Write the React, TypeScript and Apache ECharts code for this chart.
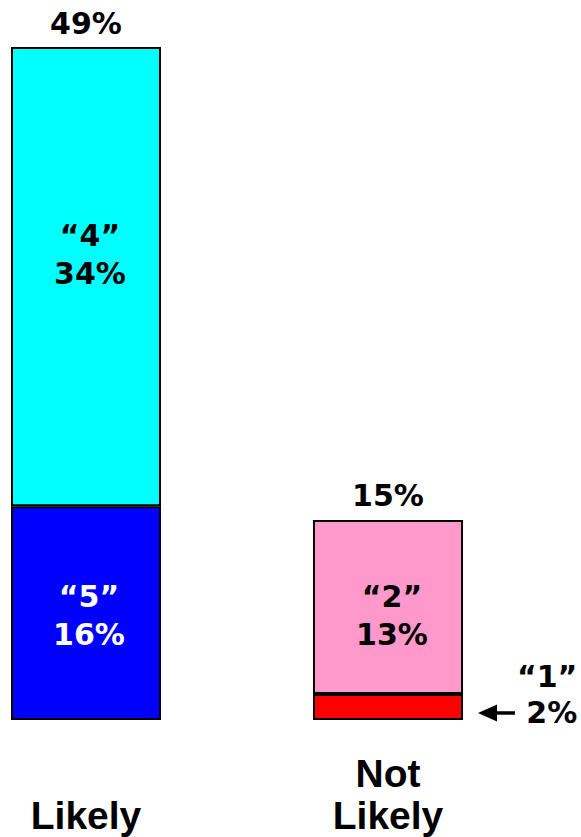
import React, { useEffect, useRef } from "react";
import * as echarts from "echarts";

// Survey responses, percent of respondents
const categories = ["Likely", "Not Likely"];
const axisNames = ["\nLikely", "Not\nLikely"];
const rating5 = [15.6, null];
const rating4 = [33.5, null];
const rating1 = [null, 1.9];
const rating2 = [null, 12.7];
const totals = [49.1, 14.6];

const BAR_WIDTH = 150;
const VALUE_FONT = "'DejaVu Sans', Verdana, sans-serif";
const AXIS_FONT = "'Liberation Sans', Arial, sans-serif";
const VALUE_SIZE = 30;

const pct = (v: number) => `${Math.round(v)}%`;

export default function App() {
  const ref = useRef<HTMLDivElement>(null);

  useEffect(() => {
    if (!ref.current) return;
    const chart = echarts.init(ref.current, null, { renderer: "svg" });

    const insideLabel = (name: string, color: string, offset: number[]) => ({
      show: true,
      position: "inside",
      offset,
      fontFamily: VALUE_FONT,
      fontWeight: "bold",
      fontSize: VALUE_SIZE,
      lineHeight: 38,
      color,
      formatter: (p: any) => `\u201C${name}\u201D\n${pct(p.value)}`,
    });

    const seg = (name: string, data: (number | null)[], color: string, label: any) => ({
      name,
      type: "bar",
      stack: "total",
      barWidth: BAR_WIDTH,
      clip: false,
      data: data.map((v) => (v == null ? "-" : v)),
      itemStyle: { color, borderColor: "#000", borderWidth: 2 },
      label,
    });

    chart.setOption({
      animation: false,
      grid: { left: 86, right: 193, top: 47, bottom: 117 },
      xAxis: {
        type: "category",
        data: categories,
        boundaryGap: false,
        axisLine: { show: false },
        axisTick: { show: false },
        axisLabel: {
          margin: 32,
          fontFamily: AXIS_FONT,
          fontWeight: "bold",
          fontSize: 39,
          lineHeight: 42,
          color: "#000",
          formatter: (_: string, i: number) => axisNames[i],
        },
      },
      yAxis: {
        type: "value",
        min: 0,
        max: "dataMax",
        show: false,
        splitLine: { show: false },
      },
      series: [
        seg("5", rating5, "#0000FF", insideLabel("5", "#fff", [3, 2])),
        seg("4", rating4, "#00FFFF", insideLabel("4", "#000", [4, -22])),
        seg("1", rating1, "#FF0000", {
          show: true,
          position: "right",
          distance: 54,
          offset: [0, -12],
          color: "#000",
          formatter: (p: any) => `{r|\u201C1\u201D}\n{r|${pct(p.value)}}`,
          rich: {
            r: {
              fontFamily: VALUE_FONT,
              fontWeight: "bold",
              fontSize: VALUE_SIZE,
              lineHeight: 36,
              align: "right",
              color: "#000",
            },
          },
        }),
        seg("2", rating2, "#FF99CC", insideLabel("2", "#000", [4, 9])),
        {
          name: "total",
          type: "bar",
          barWidth: BAR_WIDTH,
          barGap: "-100%",
          clip: false,
          data: totals,
          silent: true,
          itemStyle: { color: "rgba(0,0,0,0)" },
          label: {
            show: true,
            position: "top",
            distance: 9,
            fontFamily: VALUE_FONT,
            fontWeight: "bold",
            fontSize: VALUE_SIZE,
            color: "#000",
            formatter: (p: any) => pct(p.value),
          },
        },
      ],
    });

    // Arrow pointing at the thin "1" segment
    const mid = chart.convertToPixel({ gridIndex: 0 }, [1, (rating1[1] as number) / 2]) as number[];
    const x0 = mid[0] + BAR_WIDTH / 2 + 15;
    const y0 = mid[1] + 6;
    chart.setOption({
      graphic: [
        {
          type: "polygon",
          shape: { points: [[x0, y0], [x0 + 19, y0 - 8.5], [x0 + 19, y0 + 8.5]] },
          style: { fill: "#000" },
        },
        {
          type: "line",
          shape: { x1: x0 + 17, y1: y0, x2: x0 + 37, y2: y0 },
          style: { stroke: "#000", lineWidth: 3.5 },
        },
      ],
    });

    return () => chart.dispose();
  }, []);

  return (
    <div
      ref={ref}
      style={{ position: "absolute", left: 0, top: 0, width: 581, height: 837 }}
    />
  );
}
